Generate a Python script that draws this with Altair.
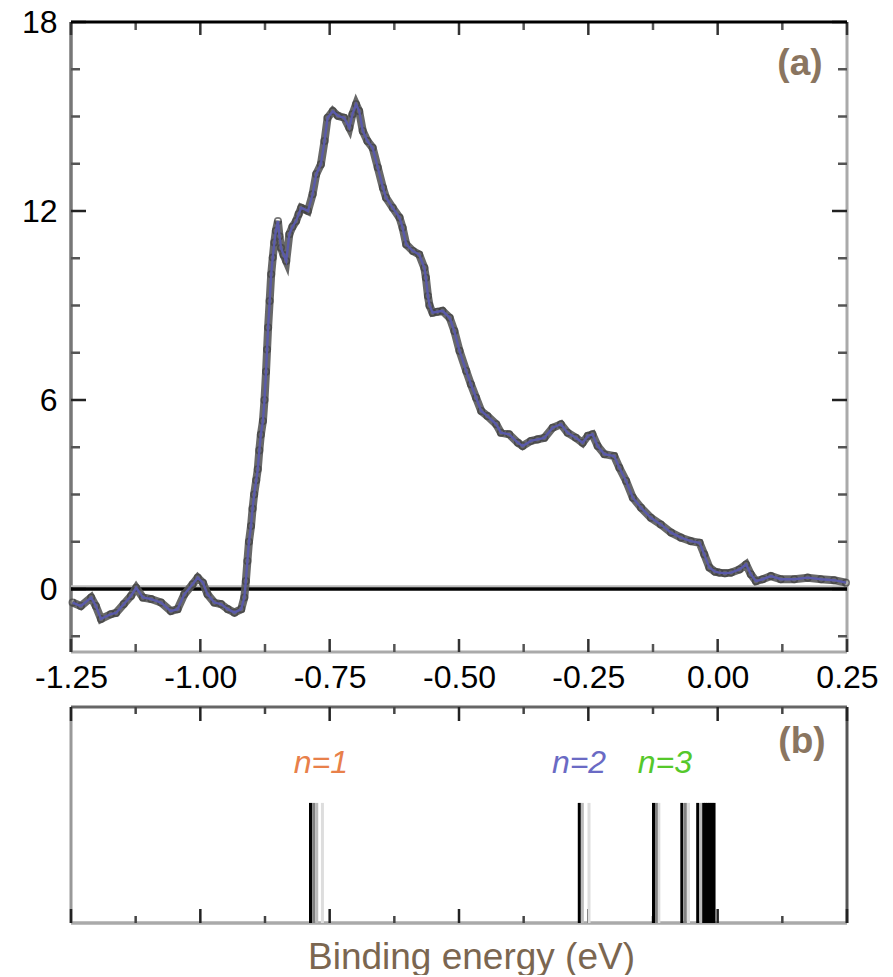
import altair as alt
import pandas as pd

FONT = "Liberation Sans"

# ---------------- data: panel (a) spectrum ----------------
energy = [-1.247, -1.231, -1.211, -1.202, -1.192, -1.173, -1.163, -1.148, -1.134, -1.124,
          -1.111, -1.095, -1.076, -1.057, -1.044, -1.031, -1.015, -1.005, -0.995, -0.986,
          -0.973, -0.960, -0.947, -0.934, -0.921, -0.915, -0.912, -0.909, -0.906, -0.902,
          -0.899, -0.896, -0.892, -0.889, -0.886, -0.883, -0.879, -0.876, -0.873, -0.871,
          -0.869, -0.866, -0.863, -0.860, -0.857, -0.854, -0.850, -0.847, -0.844, -0.839,
          -0.834, -0.828, -0.822, -0.815, -0.810, -0.805, -0.798, -0.792, -0.783, -0.776,
          -0.767, -0.760, -0.754, -0.744, -0.734, -0.722, -0.712, -0.706, -0.699, -0.693,
          -0.686, -0.677, -0.667, -0.657, -0.647, -0.641, -0.628, -0.615, -0.609, -0.602,
          -0.589, -0.577, -0.567, -0.564, -0.560, -0.557, -0.551, -0.542, -0.532, -0.518,
          -0.509, -0.499, -0.486, -0.477, -0.467, -0.457, -0.445, -0.428, -0.419, -0.403,
          -0.386, -0.377, -0.361, -0.348, -0.335, -0.319, -0.303, -0.290, -0.274, -0.261,
          -0.251, -0.242, -0.232, -0.219, -0.200, -0.190, -0.177, -0.164, -0.148, -0.129,
          -0.110, -0.090, -0.071, -0.052, -0.035, -0.026, -0.016, -0.005, 0.003, 0.014,
          0.026, 0.042, 0.055, 0.064, 0.074, 0.087, 0.103, 0.122, 0.148, 0.174,
          0.200, 0.225, 0.248]
intensity = [-0.43, -0.54, -0.27, -0.54, -0.95, -0.80, -0.76, -0.48, -0.22, 0.04,
             -0.27, -0.32, -0.43, -0.70, -0.64, -0.17, 0.15, 0.36, 0.20, -0.17,
             -0.43, -0.48, -0.64, -0.75, -0.64, -0.27, 0.25, 0.89, 1.50, 2.00,
             2.55, 3.00, 3.45, 3.80, 4.40, 4.90, 5.33, 6.00, 6.90, 7.60,
             8.30, 9.14, 9.99, 10.52, 11.00, 11.37, 11.68, 11.20, 10.83, 10.60,
             10.41, 11.26, 11.50, 11.68, 11.90, 12.10, 12.05, 12.00, 12.53, 13.17,
             13.48, 14.22, 14.96, 15.17, 15.02, 14.96, 14.64, 15.07, 15.39, 15.17,
             14.54, 14.22, 14.01, 13.38, 12.74, 12.42, 12.10, 11.79, 11.47, 10.94,
             10.73, 10.62, 10.20, 9.88, 9.30, 9.00, 8.77, 8.80, 8.83, 8.61,
             8.19, 7.56, 6.92, 6.50, 6.07, 5.65, 5.49, 5.23, 4.96, 4.91,
             4.64, 4.54, 4.70, 4.75, 4.80, 5.12, 5.23, 4.96, 4.80, 4.64,
             4.86, 4.91, 4.54, 4.28, 4.22, 3.85, 3.43, 2.90, 2.58, 2.26,
             2.05, 1.79, 1.63, 1.52, 1.47, 1.10, 0.68, 0.55, 0.52, 0.50,
             0.52, 0.62, 0.78, 0.47, 0.25, 0.31, 0.41, 0.31, 0.31, 0.36,
             0.31, 0.28, 0.20]

# axis tick values
x_major = [-1.25, -1.0, -0.75, -0.5, -0.25, 0.0, 0.25]
x_minor = [-1.125, -0.875, -0.625, -0.375, -0.125, 0.125]
y_major = [0, 6, 12, 18]
y_minor = [-1.5, 1.5, 3, 4.5, 7.5, 9, 10.5, 13.5, 15, 16.5]

# ---------------- data: panel (b) levels ----------------
level_black = [-0.787, -0.2675, -0.124, -0.0693, -0.0386,
               -0.027, -0.023, -0.019, -0.015, -0.011, -0.007]
level_dark = [-0.781, -0.1186, -0.0626]
level_mid = [-0.775, -0.2616, -0.0322]
level_light = [-0.764, -0.2487, -0.1137, -0.0564]
level_top = 0.556

state_labels = ["n=1", "n=2", "n=3"]
state_energy = [-0.767, -0.268, -0.102]
state_height = 0.74
state_colors = ["#e8804a", "#6a6ac4", "#55c82a"]

W, H1, H2 = 776, 630, 216

xs = alt.Scale(domain=[-1.25, 0.25], nice=False, zero=False)
ys1 = alt.Scale(domain=[-2, 18], nice=False, zero=False)
ys2 = alt.Scale(domain=[0, 1], nice=False, zero=False)

x_axis_top = alt.Axis(values=x_major,
                      labelExpr="replace(format(datum.value, '.2f'), '\u2212', '-')",
                      labelFont=FONT, labelFontSize=32, labelColor="black",
                      labelPadding=10, ticks=False, tickSize=0, domain=False,
                      grid=False, title=None, labelFlush=False)
y_axis_top = alt.Axis(values=y_major, format="d", labelFont=FONT, labelFontSize=32,
                      labelColor="black", labelPadding=14, ticks=False, tickSize=0,
                      domain=False, grid=False, title=None)

X1 = alt.X("E:Q", scale=xs, axis=x_axis_top)
Y1 = alt.Y("I:Q", scale=ys1, axis=y_axis_top)

spec_df = pd.DataFrame({"E": energy, "I": intensity})
one = pd.DataFrame({"E": [0.0]})

band = alt.Chart(spec_df).mark_line(color="#585858", strokeWidth=8, opacity=0.9).encode(x=X1, y=Y1)
dots = alt.Chart(spec_df).mark_point(shape="circle", filled=False, color="#404040",
                                     size=42, strokeWidth=1.6).encode(x=X1, y=Y1)
purple = alt.Chart(spec_df).mark_line(color="#5a5aaa", strokeWidth=2.4).encode(x=X1, y=Y1)

zero_shadow = alt.Chart(one).mark_rule(color="#bbbbbb", strokeWidth=2).encode(y=alt.datum(0.09))
zero_line = alt.Chart(one).mark_rule(color="black", strokeWidth=3.5).encode(y=alt.datum(0))

xmaj = pd.DataFrame({"E": x_major})
xmin = pd.DataFrame({"E": x_minor})
ymaj = pd.DataFrame({"I": y_major})
ymin = pd.DataFrame({"I": y_minor})


def xticks(df, length, color):
    bot = alt.Chart(df).mark_rule(color=color, strokeWidth=2.5).encode(
        x=X1, y=alt.value(H1), y2=alt.value(H1 - length))
    top = alt.Chart(df).mark_rule(color=color, strokeWidth=2.5).encode(
        x=X1, y=alt.value(0), y2=alt.value(length))
    return bot + top


def yticks(df, length, color):
    left = alt.Chart(df).mark_rule(color=color, strokeWidth=2.5).encode(
        y=Y1, x=alt.value(0), x2=alt.value(length))
    right = alt.Chart(df).mark_rule(color=color, strokeWidth=2.5).encode(
        y=Y1, x=alt.value(W), x2=alt.value(W - length))
    return left + right


frame_top = alt.Chart(one).mark_rule(color="black", strokeWidth=3).encode(y=alt.value(0))
frame_bottom = alt.Chart(one).mark_rule(color="#aaaaaa", strokeWidth=3).encode(y=alt.value(H1))
frame_left = alt.Chart(one).mark_rule(color="#777777", strokeWidth=3.5).encode(x=alt.value(0))
frame_right = alt.Chart(one).mark_rule(color="#aaaaaa", strokeWidth=3).encode(x=alt.value(W))

label_a = alt.Chart(pd.DataFrame({"E": [0.159], "I": [16.67], "t": ["(a)"]})).mark_text(
    font=FONT, fontSize=37, fontWeight="bold", color="#8a7560").encode(x=X1, y=Y1, text="t:N")

top = alt.layer(
    frame_bottom, frame_left, frame_right,
    xticks(xmaj, 13, "#333333"), xticks(xmin, 8, "#555555"),
    yticks(ymaj, 15, "#222222"), yticks(ymin, 9, "#555555"),
    zero_shadow, zero_line, band, dots, purple, frame_top, label_a,
).properties(width=W, height=H1)

# ---------------- panel (b) ----------------
x_axis_bot = alt.Axis(labels=False, ticks=False, domain=False, grid=False,
                      title="Binding energy (eV)", titleFont=FONT, titleFontSize=37,
                      titleFontWeight="normal", titleColor="#7b6650", titleX=400,
                      titlePadding=16)
X2 = alt.X("E:Q", scale=xs, axis=x_axis_bot)


def levels(vals, color):
    return alt.Chart(pd.DataFrame({"E": vals})).mark_rule(color=color, strokeWidth=3).encode(
        x=X2, y=alt.Y(datum=0, scale=ys2, axis=None), y2=alt.Y2(datum=level_top))


def xticks2(df, length, color):
    bot = alt.Chart(df).mark_rule(color=color, strokeWidth=2.5).encode(
        x=X2, y=alt.value(H2), y2=alt.value(H2 - length))
    tp = alt.Chart(df).mark_rule(color=color, strokeWidth=2.5).encode(
        x=X2, y=alt.value(0), y2=alt.value(length))
    return bot + tp


states = alt.Chart(pd.DataFrame({"E": state_energy, "lab": state_labels})).mark_text(
    font=FONT, fontSize=32, fontStyle="italic").encode(
    x=X2, y=alt.Y(datum=state_height, scale=ys2, axis=None), text="lab:N",
    color=alt.Color("lab:N", scale=alt.Scale(domain=state_labels, range=state_colors), legend=None))

label_b = alt.Chart(pd.DataFrame({"E": [0.163], "t": ["(b)"]})).mark_text(
    font=FONT, fontSize=37, fontWeight="bold", color="#8a7560").encode(
    x=X2, y=alt.Y(datum=0.84, scale=ys2, axis=None), text="t:N")

b_top = alt.Chart(one).mark_rule(color="#666666", strokeWidth=3).encode(y=alt.value(0))
b_bottom = alt.Chart(one).mark_rule(color="#aaaaaa", strokeWidth=3.5).encode(y=alt.value(H2))
b_left = alt.Chart(one).mark_rule(color="#999999", strokeWidth=3).encode(x=alt.value(0))
b_right = alt.Chart(one).mark_rule(color="#555555", strokeWidth=3).encode(x=alt.value(W))

bottom = alt.layer(
    b_bottom, b_left, b_right, b_top,
    xticks2(xmaj, 14, "#222222"), xticks2(xmin, 7, "#444444"),
    levels(level_light, "#dddddd"), levels(level_mid, "#bbbbbb"),
    levels(level_dark, "#808080"), levels(level_black, "black"),
    states, label_b,
).properties(width=W, height=H2)

chart = alt.vconcat(top, bottom, spacing=55, bounds="flush").properties(
    padding={"left": 21, "top": 6, "right": 5, "bottom": 0},
    background="white",
).configure_view(stroke=None)

chart.save("out.html", embed_options={"renderer": "svg", "actions": False})
